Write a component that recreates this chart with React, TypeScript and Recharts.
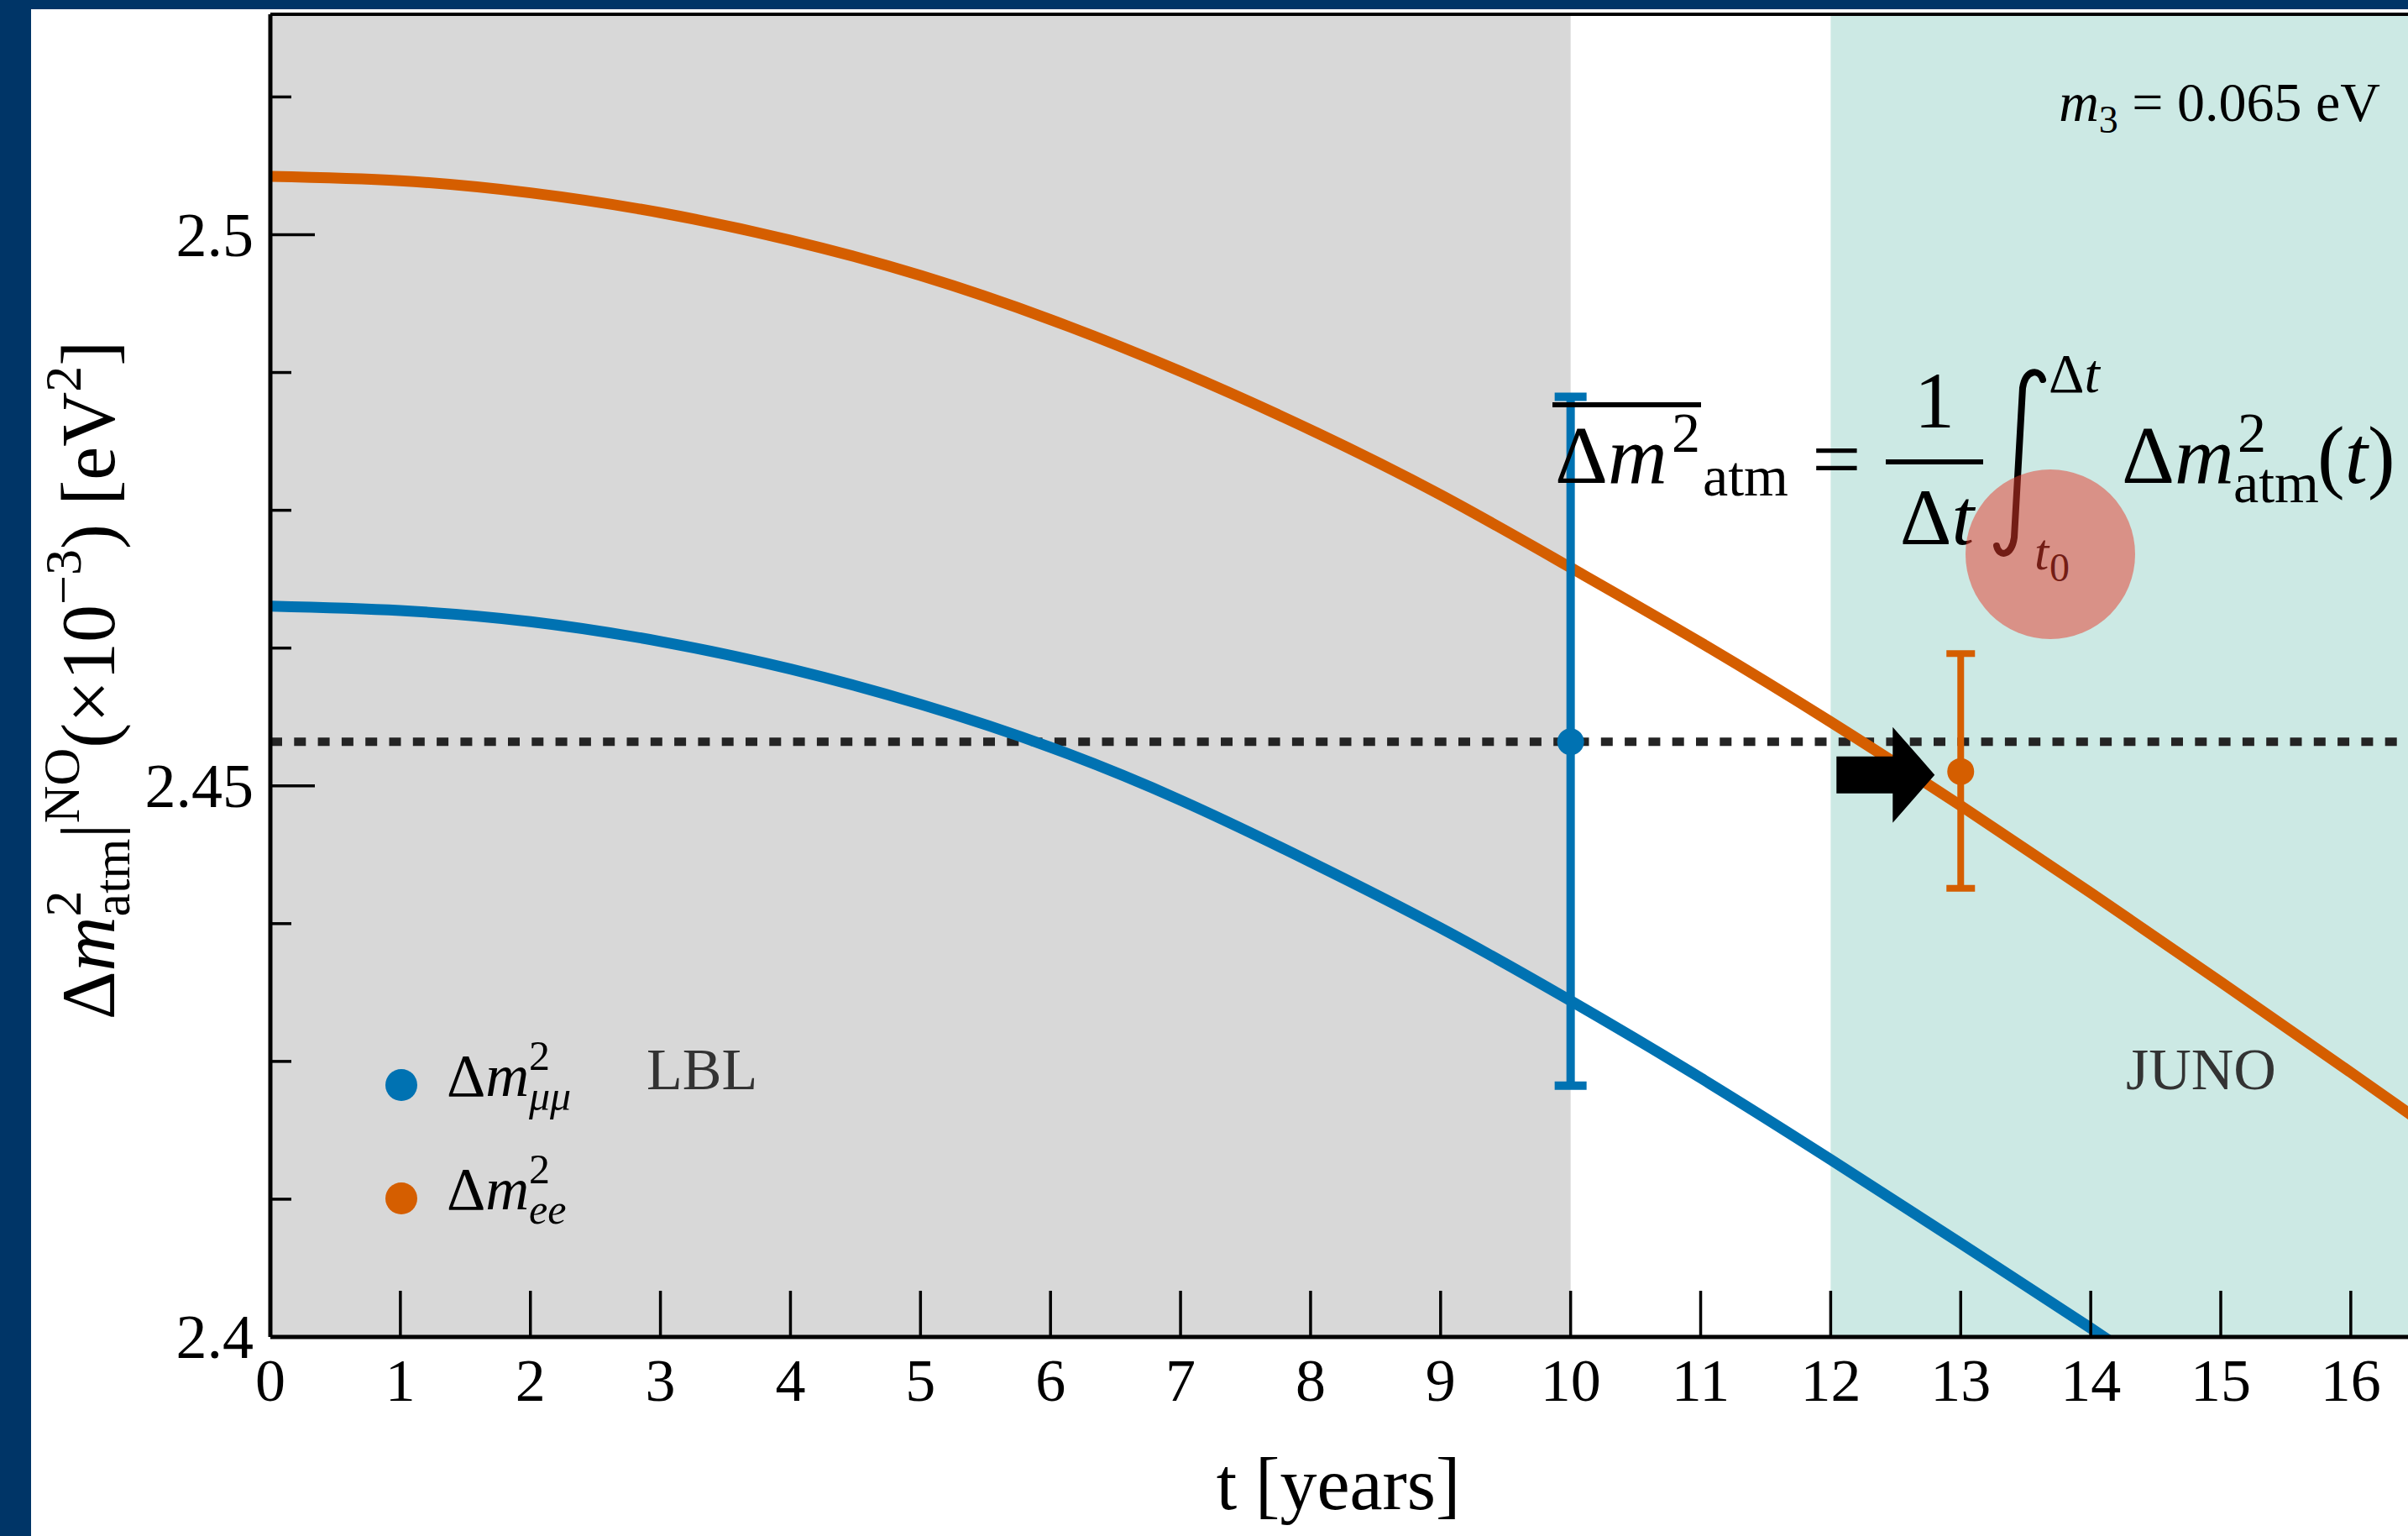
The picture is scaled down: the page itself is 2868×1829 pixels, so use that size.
import React from 'react';
import {
  ComposedChart,
  Line,
  Scatter,
  ErrorBar,
  XAxis,
  YAxis,
  ReferenceArea,
  ReferenceLine,
  ReferenceDot,
} from 'recharts';

// time in years
const years = [0, 1, 2, 3, 4, 5, 6, 7, 8, 9, 10, 11, 12, 13, 14, 15, 16, 17];
// Δm²_ee (orange) and Δm²_μμ (blue), ×10⁻³ eV²
const dm2ee = [
  2.5053, 2.5049, 2.5038, 2.502, 2.4995, 2.4963, 2.4923, 2.4876, 2.4823, 2.4764,
  2.4698, 2.463, 2.4558, 2.4482, 2.4403, 2.4322, 2.424, 2.4157,
];
const dm2mumu = [
  2.4663, 2.4659, 2.4649, 2.4631, 2.4606, 2.4574, 2.4535, 2.4487, 2.4431, 2.4371,
  2.4305, 2.4235, 2.4161, 2.4085, 2.4008, 2.3929, 2.3849, 2.3768,
];

const averageLevel = 2.454;
const lblPoint = [{ t: 10, v: 2.454, err: [0.0312, 0.0313] }];
const junoPoint = [{ t: 13, v: 2.4513, err: [0.0106, 0.0107] }];
const arrowTip = { t: 12.8, v: 2.451 };

const xTicks = [0, 1, 2, 3, 4, 5, 6, 7, 8, 9, 10, 11, 12, 13, 14, 15, 16];
const yTicks = [2.4, 2.4125, 2.425, 2.4375, 2.45, 2.4625, 2.475, 2.4875, 2.5, 2.5125];
const yLabelled = [2.4, 2.45, 2.5];

const T_MAX = 16.44;
const Y_MIN = 2.4;
const Y_MAX = 2.52;

const BLUE = '#0072b2';
const ORANGE = '#d55e00';
const GREY = '#d8d8d8';
const TEAL = '#cce9e4';
const NAVY = '#003567';
const FONT = '"Liberation Serif", "Times New Roman", serif';

const curve = years.map((t, i) => ({ t, ee: dm2ee[i], mumu: dm2mumu[i] }));

const XTick = (props: any) => {
  const { x, y, payload } = props;
  return (
    <g>
      <line x1={x} x2={x} y1={y} y2={y - 55} stroke="#000" strokeWidth={3.5} />
      <text x={x} y={y + 76} textAnchor="middle" fontSize={72} fontFamily={FONT} fill="#000">
        {payload.value}
      </text>
    </g>
  );
};

const YTick = (props: any) => {
  const { x, y, payload } = props;
  const major = yLabelled.some((m) => Math.abs(m - payload.value) < 1e-6);
  return (
    <g>
      <line x1={x} x2={x + (major ? 53 : 25)} y1={y} y2={y} stroke="#000" strokeWidth={3.5} />
      {major && (
        <text x={x - 20} y={y + 25} textAnchor="end" fontSize={74} fontFamily={FONT} fill="#000">
          {String(payload.value)}
        </text>
      )}
    </g>
  );
};

const Dot = (color: string) => (p: any) => <circle cx={p.cx} cy={p.cy} r={16} fill={color} />;

const Arrow = (p: any) => {
  const { cx, cy } = p;
  const pts = [
    [-117, -22],
    [-50, -22],
    [-50, -57],
    [0, 0],
    [-50, 57],
    [-50, 22],
    [-117, 22],
  ]
    .map(([dx, dy]) => `${cx + dx},${cy + dy}`)
    .join(' ');
  return <polygon points={pts} fill="#000" />;
};

export default function App() {
  return (
    <div
      style={{
        position: 'fixed',
        left: 0,
        top: 0,
        width: 2868,
        height: 1829,
        background: NAVY,
        overflow: 'hidden',
      }}
    >
      <div style={{ position: 'absolute', left: 37, top: 11, width: 2831, height: 1818, background: '#fff' }}>
        <ComposedChart width={2831} height={1818} data={curve} margin={{ top: 6, right: 0, bottom: 0, left: 0 }}>
          <ReferenceArea x1={0} x2={10} fill={GREY} fillOpacity={1} stroke="none" />
          <ReferenceArea x1={12} x2={T_MAX} fill={TEAL} fillOpacity={1} stroke="none" />
          <XAxis
            type="number"
            dataKey="t"
            domain={[0, T_MAX]}
            allowDataOverflow
            ticks={xTicks}
            interval={0}
            height={237}
            tickSize={0}
            tickMargin={0}
            tick={<XTick />}
            axisLine={{ stroke: '#000', strokeWidth: 5 }}
          />
          <YAxis
            type="number"
            domain={[Y_MIN, Y_MAX]}
            allowDataOverflow
            ticks={yTicks}
            interval={0}
            width={285}
            tickSize={0}
            tickMargin={0}
            tick={<YTick />}
            axisLine={{ stroke: '#000', strokeWidth: 5 }}
          />
          <ReferenceLine y={Y_MAX} stroke="#000" strokeWidth={4} />
          <ReferenceLine y={averageLevel} stroke="#242424" strokeWidth={10} strokeDasharray="14 14.3" />
          <Line
            dataKey="mumu"
            type="natural"
            stroke={BLUE}
            strokeWidth={13}
            dot={false}
            isAnimationActive={false}
          />
          <Line
            dataKey="ee"
            type="natural"
            stroke={ORANGE}
            strokeWidth={13}
            dot={false}
            isAnimationActive={false}
          />
          <Scatter data={lblPoint} dataKey="v" shape={Dot(BLUE)} isAnimationActive={false}>
            <ErrorBar dataKey="err" direction="y" width={19} strokeWidth={10} stroke={BLUE} />
          </Scatter>
          <Scatter data={junoPoint} dataKey="v" shape={Dot(ORANGE)} isAnimationActive={false}>
            <ErrorBar dataKey="err" direction="y" width={17} strokeWidth={8} stroke={ORANGE} />
          </Scatter>
          <ReferenceDot x={arrowTip.t} y={arrowTip.v} r={1} shape={Arrow} />
        </ComposedChart>
      </div>

      <svg
        width={2868}
        height={1829}
        style={{ position: 'absolute', left: 0, top: 0, pointerEvents: 'none' }}
        fontFamily={FONT}
      >
        {/* y axis title */}
        <text transform="rotate(-90 136 810)" x={136} y={810} textAnchor="middle" fontSize={90} fill="#000">
          Δ<tspan fontStyle="italic">m</tspan>
          <tspan fontSize={62} dy={-40}>2</tspan>
          <tspan fontSize={62} dx={-31} dy={58}>atm</tspan>
          <tspan dy={-18}>|</tspan>
          <tspan fontSize={62} dy={-42}>NO</tspan>
          <tspan dy={42}>(×10</tspan>
          <tspan fontSize={62} dy={-40}>−3</tspan>
          <tspan dy={40}>) [eV</tspan>
          <tspan fontSize={62} dy={-40}>2</tspan>
          <tspan dy={40}>]</tspan>
        </text>

        {/* x axis title */}
        <text x={1594} y={1797} textAnchor="middle" fontSize={88} fill="#000">
          t [years]
        </text>

        {/* mass label */}
        <text x={2835} y={144} textAnchor="end" fontSize={66} fill="#000">
          <tspan fontStyle="italic">m</tspan>
          <tspan fontSize={46} dy={14}>3</tspan>
          <tspan dy={-14}> = 0.065 eV</tspan>
        </text>

        {/* region labels */}
        <text x={770} y={1297} fontSize={70} fill="#333">LBL</text>
        <text x={2532} y={1297} fontSize={70} fill="#333">JUNO</text>

        {/* legend */}
        <circle cx={478} cy={1292} r={19} fill={BLUE} />
        <text x={532} y={1305} fontSize={72} fill="#000">
          Δ<tspan fontStyle="italic">m</tspan>
        </text>
        <text x={630} y={1274} fontSize={50} fill="#000">2</text>
        <text x={630} y={1322} fontSize={50} fontStyle="italic" fill="#000">μμ</text>
        <circle cx={478} cy={1427} r={19} fill={ORANGE} />
        <text x={532} y={1440} fontSize={72} fill="#000">
          Δ<tspan fontStyle="italic">m</tspan>
        </text>
        <text x={630} y={1409} fontSize={50} fill="#000">2</text>
        <text x={630} y={1457} fontSize={50} fontStyle="italic" fill="#000">ee</text>

        {/* average formula */}
        <line x1={1849} x2={2026} y1={482} y2={482} stroke="#000" strokeWidth={6} />
        <text x={1852} y={575} fontSize={98} fill="#000">
          Δ<tspan fontStyle="italic">m</tspan>
        </text>
        <text x={1991} y={538} fontSize={68} fill="#000">2</text>
        <text x={2028} y={590} fontSize={68} fill="#000">atm</text>
        <text x={2158} y={582} fontSize={104} fill="#000">=</text>
        <text x={2304} y={509} textAnchor="middle" fontSize={96} fill="#000">1</text>
        <line x1={2246} x2={2362} y1={550} y2={550} stroke="#000" strokeWidth={6} />
        <text x={2307} y={648} textAnchor="middle" fontSize={96} fill="#000">
          Δ<tspan fontStyle="italic">t</tspan>
        </text>
        <path
          d="M 2433 452 C 2430 440, 2413 438, 2409 462 L 2399 640 C 2396 662, 2381 664, 2378 650"
          fill="none"
          stroke="#000"
          strokeWidth={8}
          strokeLinecap="round"
        />
        <text x={2440} y={467} fontSize={66} fill="#000">
          Δ<tspan fontStyle="italic">t</tspan>
        </text>
        <text x={2423} y={678} fontSize={62} fontStyle="italic" fill="#000">t</text>
        <text x={2441} y={692} fontSize={48} fill="#000">0</text>
        <text x={2527} y={575} fontSize={98} fill="#000">
          Δ<tspan fontStyle="italic">m</tspan>
        </text>
        <text x={2665} y={538} fontSize={68} fill="#000">2</text>
        <text x={2660} y={598} fontSize={68} fill="#000">atm</text>
        <text x={2760} y={575} fontSize={98} fill="#000">
          (<tspan fontStyle="italic">t</tspan>)
        </text>

        {/* highlight */}
        <circle cx={2442} cy={660} r={101} fill="rgb(230,57,41)" fillOpacity={0.5} />
      </svg>
    </div>
  );
}
